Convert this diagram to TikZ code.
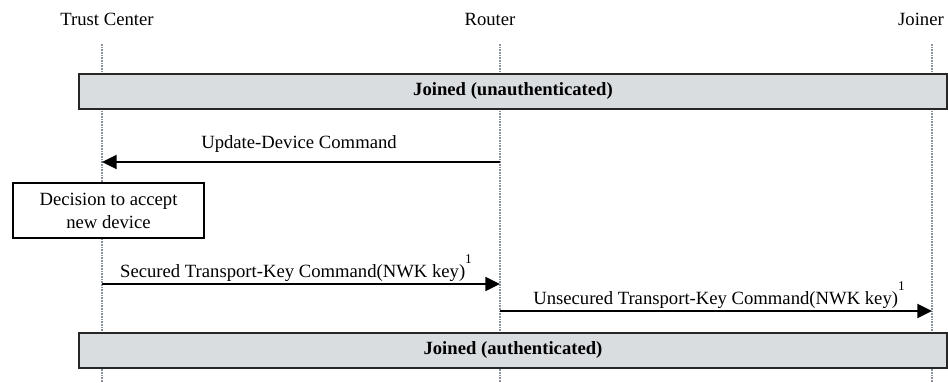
\documentclass[tikz,border=0pt]{standalone}
\usepackage{fontspec}
\setmainfont{Liberation Serif}
\usetikzlibrary{arrows.meta}
\definecolor{boxgray}{RGB}{218,221,224}
\definecolor{lifegray}{RGB}{140,146,156}
\newcommand{\supone}{\raisebox{0.7em}{\fontsize{10}{10}\selectfont 1}}
\begin{document}
\begin{tikzpicture}[x=0.75pt,y=-0.75pt,
  every node/.style={font=\fontsize{14}{17}\selectfont, inner sep=0pt},
  lifeline/.style={draw=lifegray, line width=0.8pt, dash pattern=on 1.2pt off 0.8pt},
  statebox/.style={draw=black!85, line width=1.4pt, fill=boxgray, minimum width=651pt, minimum height=26.25pt, font=\fontsize{14}{17}\selectfont\bfseries},
  decbox/.style={draw=black, line width=1.1pt, fill=white, minimum width=143.25pt, minimum height=41.25pt, align=center, font=\fontsize{14}{17.25}\selectfont},
  msg/.style={line width=1.5pt, -{Triangle[length=11pt,width=10.5pt]}},
  lbl/.style={anchor=base}
]
\useasboundingbox (0,0) rectangle (948,382);
% titles
\node[lbl] (tc) at (107,26) {Trust Center};
\node[lbl] (rt) at (490,26) {Router};
\node[lbl] (jn) at (921,26) {Joiner};
% lifelines
\coordinate (tcT) at (102,44); \coordinate (tcB) at (102,382);
\coordinate (rtT) at (500,44); \coordinate (rtB) at (500,382);
\coordinate (jnT) at (932,44); \coordinate (jnB) at (932,382);
\draw[lifeline] (tcT) -- (tcB);
\draw[lifeline] (rtT) -- (rtB);
\draw[lifeline] (jnT) -- (jnB);
% state boxes
\node[statebox] (s1) at (513,91.5) {Joined (unauthenticated)};
\node[statebox] (s2) at (513,350.5) {Joined (authenticated)};
% decision box
\node[decbox] (dec) at (108.5,210.5) {Decision to accept\\new device};
% messages
\coordinate (m1s) at (500,162); \coordinate (m1e) at (102,162);
\draw[msg] (m1s) -- (m1e);
\node[lbl] (l1) at (299,148) {Update-Device Command};
\coordinate (m2s) at (102,284); \coordinate (m2e) at (500,284);
\draw[msg] (m2s) -- (m2e);
\node[lbl] (l2) at (296,277) {Secured Transport-Key Command(NWK key)\supone};
\coordinate (m3s) at (500,311); \coordinate (m3e) at (932,311);
\draw[msg] (m3s) -- (m3e);
\node[lbl] (l3) at (719,304) {Unsecured Transport-Key Command(NWK key)\supone};
\end{tikzpicture}
\end{document}
